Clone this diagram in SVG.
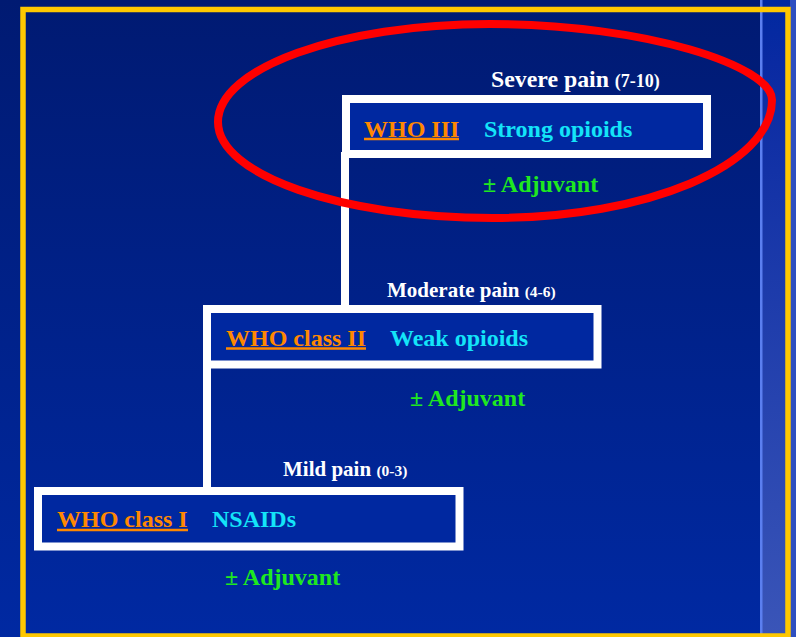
<svg xmlns="http://www.w3.org/2000/svg" width="796" height="637" viewBox="0 0 796 637">
<defs>
<linearGradient id="bg" x1="0" y1="0" x2="0" y2="1">
<stop offset="0" stop-color="#001a72"/>
<stop offset="1" stop-color="#0029a2"/>
</linearGradient>
<linearGradient id="band" x1="0" y1="0" x2="0" y2="1">
<stop offset="0" stop-color="#0028a0"/>
<stop offset="0.1" stop-color="#0a2aa2"/>
<stop offset="1" stop-color="#3a55b8"/>
</linearGradient>
<style>
.box{fill:#0028a0;stroke:#ffffff;stroke-width:8}
.conn{stroke:#ffffff;stroke-width:8;fill:none}
.t{font-family:"Liberation Serif","Times New Roman",serif;font-weight:bold}
.pain{fill:#ffffff}
.who{fill:#ff8800;font-size:24px}
.drug{fill:#14e4f8;font-size:24px}
.adj{fill:#1fe81f;font-size:24px}
.ul{stroke:#ff8800;stroke-width:2.6}
</style>
</defs>
<rect x="0" y="0" width="796" height="637" fill="url(#bg)"/>
<rect x="762" y="0" width="34" height="637" fill="url(#band)"/>
<rect x="790" y="0" width="6" height="637" fill="#2e4fc0"/>
<rect x="760" y="0" width="2.5" height="637" fill="#5b7ff0"/>
<rect x="23" y="9.5" width="765" height="626.5" fill="none" stroke="#ffc800" stroke-width="5.5"/>

<g id="connectors">
<line class="conn" x1="345" y1="152" x2="345" y2="311"/>
<line class="conn" x1="207" y1="362" x2="207" y2="493"/>
</g>

<g id="who3">
<rect class="box" x="346" y="99" width="361" height="55"/>
<text class="t pain" x="491" y="87" font-size="23.8">Severe pain <tspan font-size="18">(7-10)</tspan></text>
<text class="t who" x="364" y="137">WHO III</text>
<line class="ul" x1="364" y1="139" x2="459" y2="139"/>
<text class="t drug" x="484" y="137">Strong opioids</text>
<text class="t adj" x="483" y="192">± Adjuvant</text>
</g>

<g id="who2">
<rect class="box" x="207" y="309" width="390.5" height="55.5"/>
<text class="t pain" x="387" y="297" font-size="21">Moderate pain <tspan font-size="15.5">(4-6)</tspan></text>
<text class="t who" x="226" y="346">WHO class II</text>
<line class="ul" x1="226" y1="348.5" x2="366" y2="348.5"/>
<text class="t drug" x="390" y="346">Weak opioids</text>
<text class="t adj" x="410" y="406">± Adjuvant</text>
</g>

<g id="who1">
<rect class="box" x="38" y="491" width="421.5" height="55.5"/>
<text class="t pain" x="283" y="476" font-size="21">Mild pain <tspan font-size="15.5">(0-3)</tspan></text>
<text class="t who" x="57" y="527">WHO class I</text>
<line class="ul" x1="57" y1="530" x2="188" y2="530"/>
<text class="t drug" x="212" y="527">NSAIDs</text>
<text class="t adj" x="225" y="585">± Adjuvant</text>
</g>

<g id="highlight">
<path d="M218,122 C218,67.9 339.8,24 490,24 C645.7,24 772,66 772,100 C772,165.2 647.1,218 493,218 C341.1,218 218,175 218,122 Z" fill="none" stroke="#ff0000" stroke-width="8"/>
</g>
</svg>
